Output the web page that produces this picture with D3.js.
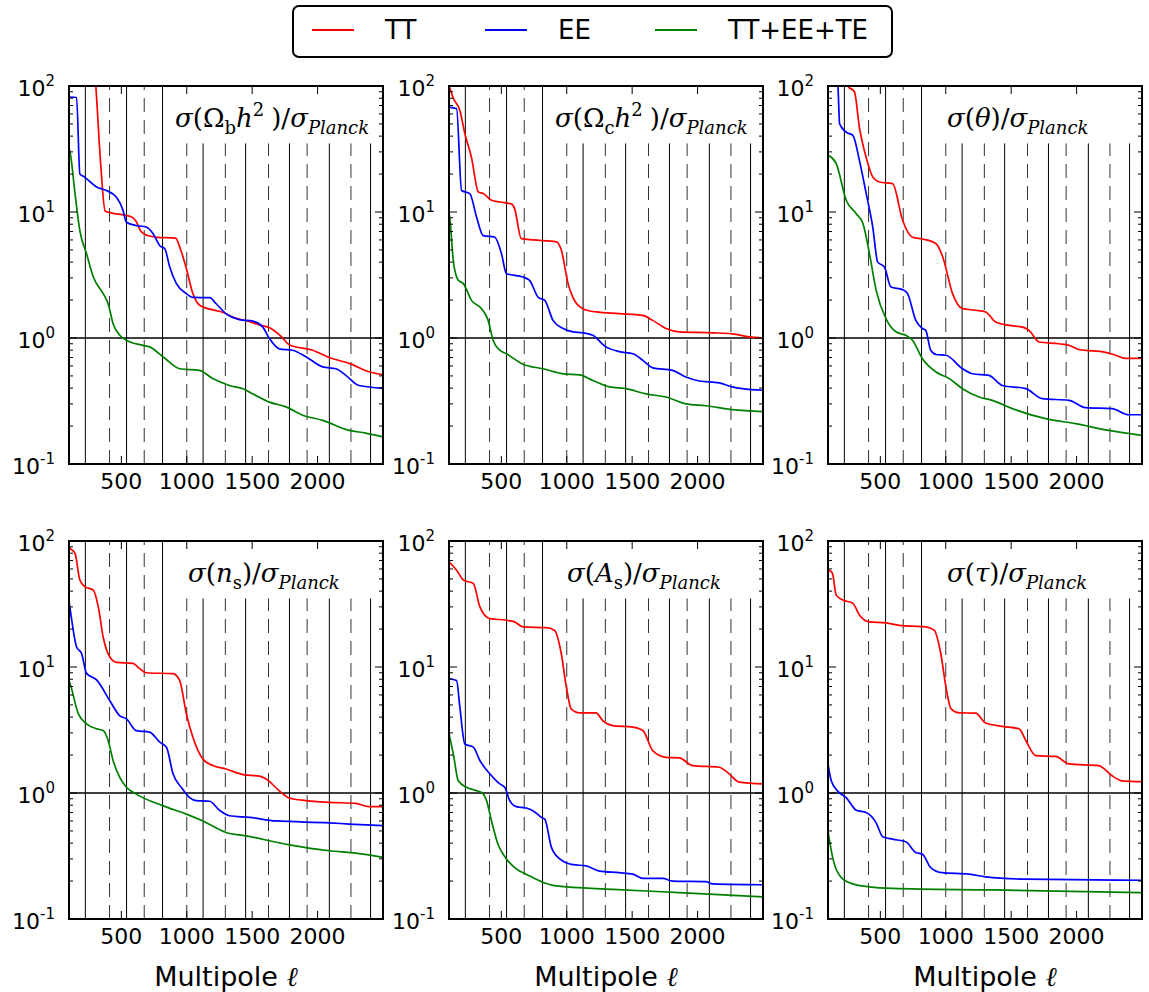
<!DOCTYPE html>
<html>
<head>
<meta charset="utf-8">
<script src="https://cdn.jsdelivr.net/npm/d3@7"></script>
<style>
  body { margin: 0; background: #fff; }
  text { font-family: "DejaVu Sans", sans-serif; fill: #000; }
</style>
</head>
<body>
<div id="chart"></div>
<script>
// sigma ratio vs multipole as [ell, value]
const ombTT = [[290,160],[305,100],[341,25],[376,10.2],[431,9.8],[571,9.2],[611,8.5],[651,7],[701,6.5],[774,6.3],[914,6.2],[954,5],[999,3.5],[1044,2.3],[1104,1.8],[1194,1.68],[1274,1.6],[1354,1.46],[1457,1.37],[1557,1.27],[1637,1.2],[1717,1.04],[1787,0.88],[1962,0.8],[2089,0.7],[2259,0.62],[2369,0.55],[2500,0.51]];
const ombEE = [[100,81.8],[158,81],[183,20],[210,19.2],[311,15.8],[387,14.8],[463,13.1],[513,10.3],[539,8.3],[614,7.8],[690,7.6],[744,6.7],[794,5.4],[832,5.1],[870,3.66],[921,2.7],[997,2.25],[1047,2.1],[1175,2.09],[1225,1.87],[1300,1.56],[1401,1.4],[1506,1.36],[1582,1.22],[1632,0.99],[1708,0.82],[1809,0.8],[1911,0.71],[2039,0.59],[2140,0.57],[2216,0.505],[2317,0.42],[2500,0.4]];
const ombAll = [[100,32],[108,29.9],[146,14],[183,7.1],[234,4.67],[286,3.05],[361,2.25],[399,1.87],[437,1.3],[488,1.05],[539,0.96],[665,0.875],[716,0.85],[820,0.707],[946,0.57],[1098,0.554],[1199,0.476],[1326,0.42],[1430,0.396],[1506,0.36],[1632,0.31],[1759,0.284],[1886,0.244],[2039,0.222],[2241,0.185],[2367,0.176],[2500,0.164]];

const omcTT = [[100,100],[108,95],[133,80],[183,64],[221,42],[272,27],[324,14.4],[361,14],[425,12.4],[488,12],[576,11.6],[602,10.6],[652,6.15],[744,6.0],[921,5.8],[959,4.97],[1010,2.7],[1047,2.1],[1123,1.71],[1224,1.61],[1401,1.56],[1582,1.51],[1657,1.38],[1759,1.19],[1860,1.12],[2114,1.1],[2266,1.08],[2393,1.02],[2500,1.0]];
const omcEE = [[100,68],[158,66],[196,14.8],[259,14],[311,9.1],[361,6.5],[450,6.3],[501,4.67],[539,3.24],[665,3.05],[716,2.87],[782,2.1],[832,1.99],[895,1.38],[972,1.19],[1047,1.12],[1123,1.1],[1199,1.05],[1300,0.85],[1401,0.78],[1506,0.75],[1582,0.665],[1657,0.58],[1809,0.554],[1911,0.49],[2013,0.456],[2165,0.44],[2266,0.409],[2342,0.396],[2500,0.385]];
const omcAll = [[100,10],[108,8.6],[133,4.1],[171,2.87],[210,2.7],[272,1.99],[349,1.71],[399,1.38],[437,0.96],[488,0.8],[539,0.75],[665,0.62],[820,0.57],[972,0.52],[1098,0.51],[1199,0.46],[1326,0.409],[1452,0.396],[1607,0.36],[1759,0.34],[1911,0.3],[2064,0.29],[2266,0.27],[2500,0.26]];

const thTT = [[240,130],[252,100],[302,90],[340,47],[392,27],[442,19],[493,17.3],[594,16.8],[670,8.6],[746,6.3],[822,6.1],[926,5.6],[977,4.4],[1052,2.25],[1128,1.71],[1229,1.66],[1305,1.61],[1381,1.34],[1485,1.26],[1587,1.22],[1637,1.15],[1713,0.93],[1865,0.9],[1942,0.875],[2018,0.81],[2221,0.77],[2297,0.73],[2373,0.69],[2500,0.69]];
const thEE = [[160,130],[176,100],[189,50],[239,43],[290,40.6],[340,25.7],[392,14],[442,7.6],[480,4],[531,3.66],[581,2.54],[670,2.42],[708,2.25],[771,1.38],[822,1.19],[847,1.15],[885,0.8],[926,0.74],[1002,0.73],[1128,0.57],[1204,0.52],[1330,0.505],[1432,0.42],[1612,0.396],[1738,0.33],[1942,0.32],[2068,0.28],[2271,0.275],[2398,0.246],[2500,0.246]];
const thAll = [[100,28.3],[163,24.2],[239,12.4],[316,9.7],[367,8.1],[417,4.67],[468,2.39],[544,1.42],[619,1.12],[695,1.05],[746,0.96],[822,0.685],[926,0.537],[1027,0.476],[1128,0.396],[1255,0.34],[1356,0.32],[1509,0.275],[1764,0.229],[1992,0.209],[2246,0.185],[2500,0.169]];

const nsTT = [[100,90],[108,87.7],[146,79.9],[183,49],[221,43.4],[286,40.8],[324,30],[361,17.3],[412,12],[463,10.9],[589,10.7],[640,9.7],[690,9.0],[896,8.85],[946,7.8],[997,4.26],[1047,2.77],[1123,1.86],[1199,1.65],[1300,1.55],[1430,1.4],[1557,1.36],[1607,1.29],[1708,1.04],[1784,0.912],[1911,0.87],[2089,0.843],[2291,0.827],[2393,0.78],[2500,0.78]];
const nsEE = [[100,33],[108,29.1],[158,14.4],[196,12.8],[234,8.9],[311,7.9],[412,5.4],[488,4.1],[539,3.87],[614,3.13],[716,3.04],[794,2.53],[845,2.31],[895,1.42],[958,1.11],[1022,0.92],[1073,0.87],[1175,0.86],[1250,0.73],[1326,0.66],[1480,0.64],[1683,0.6],[2089,0.58],[2241,0.567],[2500,0.55]];
const nsAll = [[100,7.8],[108,7.4],[171,4.26],[234,3.54],[311,3.23],[361,3.13],[399,2.61],[437,1.81],[488,1.33],[539,1.11],[614,0.98],[820,0.79],[997,0.68],[1123,0.6],[1300,0.486],[1452,0.457],[1784,0.388],[2089,0.348],[2291,0.333],[2500,0.308]];

const asTT = [[100,68.4],[158,58.7],[210,49],[286,46],[336,30],[412,24.2],[539,23.5],[602,22.8],[665,20.8],[845,20.5],[908,19.5],[958,12.8],[997,6.93],[1034,4.66],[1098,4.33],[1224,4.33],[1275,3.76],[1351,3.43],[1506,3.33],[1582,3.13],[1657,2.17],[1759,1.92],[1860,1.9],[1962,1.65],[2165,1.6],[2241,1.42],[2317,1.22],[2500,1.18]];
const asEE = [[100,8.07],[158,7.8],[183,4.8],[221,2.45],[286,2.31],[336,1.81],[412,1.42],[488,1.18],[526,1.11],[564,0.87],[614,0.78],[690,0.76],[744,0.72],[807,0.64],[832,0.62],[883,0.37],[946,0.3],[1047,0.27],[1148,0.264],[1250,0.24],[1401,0.233],[1506,0.227],[1582,0.21],[1733,0.21],[1809,0.2],[2064,0.198],[2114,0.19],[2500,0.187]];
const asAll = [[100,2.95],[133,2.04],[171,1.25],[234,1.11],[286,1.06],[349,1.01],[387,0.87],[425,0.6],[475,0.39],[539,0.3],[614,0.25],[690,0.227],[820,0.195],[921,0.183],[1351,0.172],[1860,0.162],[2500,0.15]];

const tauTT = [[100,59],[105,58.7],[133,55.7],[163,37.2],[214,34],[290,32],[340,25.9],[417,22.8],[544,22.4],[645,21.4],[847,20.8],[911,19.6],[962,12.8],[1002,6.9],[1040,4.66],[1103,4.33],[1229,4.3],[1305,3.59],[1432,3.38],[1561,3.23],[1612,2.61],[1688,1.98],[1840,1.95],[1942,1.7],[2170,1.65],[2271,1.37],[2347,1.25],[2500,1.23]];
const tauEE = [[100,1.7],[125,1.25],[176,1.03],[239,0.92],[316,0.73],[392,0.7],[468,0.58],[518,0.45],[594,0.43],[695,0.41],[771,0.337],[822,0.327],[885,0.256],[973,0.233],[1178,0.227],[1305,0.216],[1612,0.207],[2500,0.203]];
const tauAll = [[100,0.5],[138,0.3],[214,0.207],[290,0.19],[417,0.18],[594,0.175],[1356,0.17],[2500,0.162]];

// reference multipoles: solid and dashed vertical lines
const peaksSolid = [225, 540, 815, 1125, 1450, 1785, 2090, 2405];
const peaksDashed = [410, 675, 1000, 1295, 1625, 1920, 2255];

const seriesNames = ["TT", "EE", "TT+EE+TE"];
const seriesColors = ["#ff0000", "#0000ff", "#008000"];
const xTicks = [500, 1000, 1500, 2000];
const yTicks = [0.1, 1, 10, 100];
const yTickExp = ["-1", "0", "1", "2"];

// title pieces: i = italic, sub / sup
const titles = [
  [{t:"σ",i:1},{t:"("},{t:"Ω"},{t:"b",sub:1},{t:"h",i:1},{t:"2",sup:1},{t:")",dx:7},{t:"/"},{t:"σ",i:1},{t:"Planck",i:1,sub:1}],
  [{t:"σ",i:1},{t:"("},{t:"Ω"},{t:"c",sub:1},{t:"h",i:1},{t:"2",sup:1},{t:")",dx:7},{t:"/"},{t:"σ",i:1},{t:"Planck",i:1,sub:1}],
  [{t:"σ",i:1},{t:"("},{t:"θ",i:1},{t:")"},{t:"/"},{t:"σ",i:1},{t:"Planck",i:1,sub:1}],
  [{t:"σ",i:1},{t:"("},{t:"n",i:1},{t:"s",sub:1},{t:")"},{t:"/"},{t:"σ",i:1},{t:"Planck",i:1,sub:1}],
  [{t:"σ",i:1},{t:"("},{t:"A",i:1},{t:"s",sub:1},{t:")"},{t:"/"},{t:"σ",i:1},{t:"Planck",i:1,sub:1}],
  [{t:"σ",i:1},{t:"("},{t:"τ",i:1},{t:")"},{t:"/"},{t:"σ",i:1},{t:"Planck",i:1,sub:1}]
];
const titleX = [106, 106, 119, 119, 118, 119];

const panels = [
  [ombTT, ombEE, ombAll], [omcTT, omcEE, omcAll], [thTT, thEE, thAll],
  [nsTT, nsEE, nsAll], [asTT, asEE, asAll], [tauTT, tauEE, tauAll]
];

const W = 1149, H = 992;
const svg = d3.select("#chart").append("svg")
    .attr("width", W).attr("height", H);

const lefts = [69, 449, 828], tops = [86, 541];
const pw = 314, ph = 378;

const x = d3.scaleLinear().domain([100, 2500]).range([0, pw]);
const y = d3.scaleLog().domain([0.1, 100]).range([ph, 0]);

svg.append("defs").append("clipPath").attr("id", "clip")
  .append("rect").attr("width", pw).attr("height", ph);

const line = d3.line()
    .x(d => x(d[0]))
    .y(d => y(d[1]))
    .curve(d3.curveMonotoneX);

const minorTicks = [];
[0.1, 1, 10].forEach(dec => { for (let k = 2; k <= 9; k++) minorTicks.push(dec * k); });

panels.forEach((series, p) => {
  const g = svg.append("g")
      .attr("transform", `translate(${lefts[p % 3]},${tops[Math.floor(p / 3)]})`);

  // vertical reference lines (shorter above l~900 to leave room for title)
  g.selectAll(".vs").data(peaksSolid).enter().append("line")
      .attr("x1", d => x(d)).attr("x2", d => x(d))
      .attr("y1", ph).attr("y2", d => d < 900 ? 0 : y(35))
      .attr("stroke", "#000").attr("stroke-width", 1);
  g.selectAll(".vd").data(peaksDashed).enter().append("line")
      .attr("x1", d => x(d)).attr("x2", d => x(d))
      .attr("y1", ph).attr("y2", d => d < 900 ? 0 : y(35))
      .attr("stroke", "#333").attr("stroke-width", 1)
      .attr("stroke-dasharray", "14,8");

  g.append("line")
      .attr("x1", 0).attr("x2", pw).attr("y1", y(1)).attr("y2", y(1))
      .attr("stroke", "#000").attr("stroke-width", 1.3);

  g.append("g").attr("clip-path", "url(#clip)")
    .selectAll("path").data(series).enter().append("path")
      .attr("d", d => line(d))
      .attr("fill", "none")
      .attr("stroke", (d, i) => seriesColors[i])
      .attr("stroke-width", 1.7);

  // ticks pointing inward, all four sides
  xTicks.forEach(v => {
    g.append("line").attr("x1", x(v)).attr("x2", x(v)).attr("y1", ph).attr("y2", ph - 8).attr("stroke", "#000");
    g.append("line").attr("x1", x(v)).attr("x2", x(v)).attr("y1", 0).attr("y2", 8).attr("stroke", "#000");
    g.append("text").attr("x", x(v)).attr("y", ph + 25)
      .attr("text-anchor", "middle").style("font-size", "22px").text(v);
  });
  yTicks.forEach((v, k) => {
    g.append("line").attr("x1", 0).attr("x2", 8).attr("y1", y(v)).attr("y2", y(v)).attr("stroke", "#000");
    g.append("line").attr("x1", pw).attr("x2", pw - 8).attr("y1", y(v)).attr("y2", y(v)).attr("stroke", "#000");
    const t = g.append("text").attr("x", -14).attr("y", y(v) + 10)
      .attr("text-anchor", "end").style("font-size", "22px");
    t.append("tspan").text("10");
    t.append("tspan").attr("dy", -10).style("font-size", "15px").text(yTickExp[k]);
  });
  minorTicks.forEach(v => {
    g.append("line").attr("x1", 0).attr("x2", 4).attr("y1", y(v)).attr("y2", y(v)).attr("stroke", "#000");
    g.append("line").attr("x1", pw).attr("x2", pw - 4).attr("y1", y(v)).attr("y2", y(v)).attr("stroke", "#000");
  });

  g.append("rect").attr("width", pw).attr("height", ph)
      .attr("fill", "none").attr("stroke", "#000").attr("stroke-width", 2);

  // panel title
  const tt = g.append("text").attr("x", titleX[p]).attr("y", 41)
      .style("font-family", "'DejaVu Serif', serif").style("font-size", "26px");
  let shift = 0;
  titles[p].forEach(s => {
    const target = s.sub ? 7 : s.sup ? -11 : 0;
    const ts = tt.append("tspan").attr("dy", target - shift).text(s.t);
    shift = target;
    if (s.i) ts.style("font-style", "italic");
    if (s.sub || s.sup) ts.style("font-size", "18px");
    if (s.dx) ts.attr("dx", s.dx);
  });

  if (p >= 3) {
    const xl = g.append("text").attr("x", pw / 2).attr("y", ph + 67)
        .attr("text-anchor", "middle").style("font-size", "27px");
    xl.append("tspan").text("Multipole ");
    xl.append("tspan").style("font-family", "'DejaVu Serif', serif")
        .style("font-style", "italic").text("ℓ");
  }
});

// legend
const lg = svg.append("g");
lg.append("rect").attr("x", 293).attr("y", 6).attr("width", 599).attr("height", 51).attr("rx", 6)
    .attr("fill", "#fff").attr("stroke", "#000").attr("stroke-width", 2);
const legX = [312, 485, 655];
seriesNames.forEach((n, i) => {
  lg.append("line").attr("x1", legX[i]).attr("x2", legX[i] + 42).attr("y1", 30).attr("y2", 30)
      .attr("stroke", seriesColors[i]).attr("stroke-width", 2);
  lg.append("text").attr("x", legX[i] + 73).attr("y", 39).style("font-size", "26px").text(n);
});
</script>
</body>
</html>
